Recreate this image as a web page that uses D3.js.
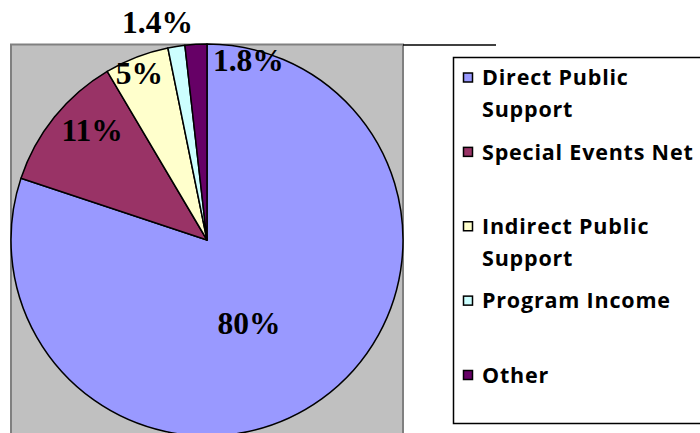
<!DOCTYPE html>
<html lang="en">
<head>
    <meta charset="UTF-8">
    <script src="https://cdn.jsdelivr.net/npm/d3@7"></script>
    <title>Revenue pie</title>
    <style>
        body { margin: 0px; background: #fff; }
        svg { display: block; }
    </style>
</head>
<body>
    <svg id="chart" width="700" height="433"></svg>
    <script>
        // data
        const categories = ['Direct Public Support', 'Special Events Net', 'Indirect Public Support', 'Program Income', 'Other'];
        const values = [80.1, 11.4, 5.3, 1.4, 1.8];
        const labels = ['80%', '11%', '5%', '1.4%', '1.8%'];
        const colors = ['#9999FF', '#993366', '#FFFFCC', '#CCFFFF', '#660066'];

        const svg = d3.select('#chart');
        const cx = 207, cy = 240, r = 196;

        // grey plot area
        svg.append('rect')
            .attr('x', 11).attr('y', 44.5)
            .attr('width', 392).attr('height', 420)
            .attr('fill', '#C0C0C0')
            .attr('stroke', '#808080')
            .attr('stroke-width', 2);
        svg.append('path')
            .attr('d', 'M403 45L496 45')
            .attr('stroke', '#000')
            .attr('stroke-width', 1.5);

        const pie = d3.pie().sort(null).value(d => d);
        const arcs = pie(values);
        const arc = d3.arc().innerRadius(0).outerRadius(r);

        const g = svg.append('g').attr('transform', `translate(${cx}, ${cy})`);
        g.selectAll('path')
            .data(arcs)
            .enter()
            .append('path')
            .attr('d', arc)
            .attr('fill', (d, i) => colors[i])
            .attr('stroke', '#000')
            .attr('stroke-width', 1.5)
            .attr('stroke-linejoin', 'round');

        // label placement: radius factor and angle shift (deg) from slice middle
        const labelLayout = [
            { k: 0.474, shift: 9 },
            { k: 0.81, shift: 4.7 },
            { k: 0.92, shift: -1 },
            { k: 1.14, shift: -3.8 },
            { k: 0.94, shift: 16.2 }
        ];
        const fs = 31.5;
        g.selectAll('text')
            .data(arcs)
            .enter()
            .append('text')
            .attr('x', (d, i) => {
                let a = (d.startAngle + d.endAngle) / 2 + labelLayout[i].shift * Math.PI / 180;
                return Math.sin(a) * r * labelLayout[i].k;
            })
            .attr('y', (d, i) => {
                let a = (d.startAngle + d.endAngle) / 2 + labelLayout[i].shift * Math.PI / 180;
                return -Math.cos(a) * r * labelLayout[i].k + fs * 0.34;
            })
            .attr('text-anchor', 'middle')
            .attr('font-family', '"Liberation Serif", "Times New Roman", serif')
            .attr('font-weight', 'bold')
            .attr('font-size', fs)
            .text((d, i) => labels[i]);

        // legend
        svg.append('rect')
            .attr('x', 453.5).attr('y', 57.5)
            .attr('width', 270).attr('height', 366)
            .attr('fill', '#fff')
            .attr('stroke', '#000')
            .attr('stroke-width', 1.5);

        const yLeg = d3.scaleLinear([0, categories.length - 1], [77.5, 375]);
        const lfs = 21.5;
        const leg = svg.append('g');
        categories.forEach((c, i) => {
            let y = yLeg(i);
            leg.append('rect')
                .attr('x', 463.5).attr('y', y - 4.5)
                .attr('width', 9).attr('height', 9)
                .attr('fill', colors[i])
                .attr('stroke', '#000')
                .attr('stroke-width', 1.5);
            let t = leg.append('text')
                .attr('x', 482)
                .attr('y', y + lfs * 0.36)
                .attr('font-family', '"Open Sans", sans-serif')
                .attr('font-weight', 'bold')
                .attr('font-size', lfs)
                .attr('letter-spacing', 0.8)
                .attr('fill', '#000');
            // greedy word wrap
            let words = c.split(' ');
            let line = [];
            let tspan = t.append('tspan').attr('x', 482);
            words.forEach(w => {
                line.push(w);
                tspan.text(line.join(' '));
                if (tspan.node().getComputedTextLength() > 218 && line.length > 1) {
                    line.pop();
                    tspan.text(line.join(' '));
                    line = [w];
                    tspan = t.append('tspan').attr('x', 482).attr('dy', 32).text(w);
                }
            });
        });
    </script>
</body>
</html>
